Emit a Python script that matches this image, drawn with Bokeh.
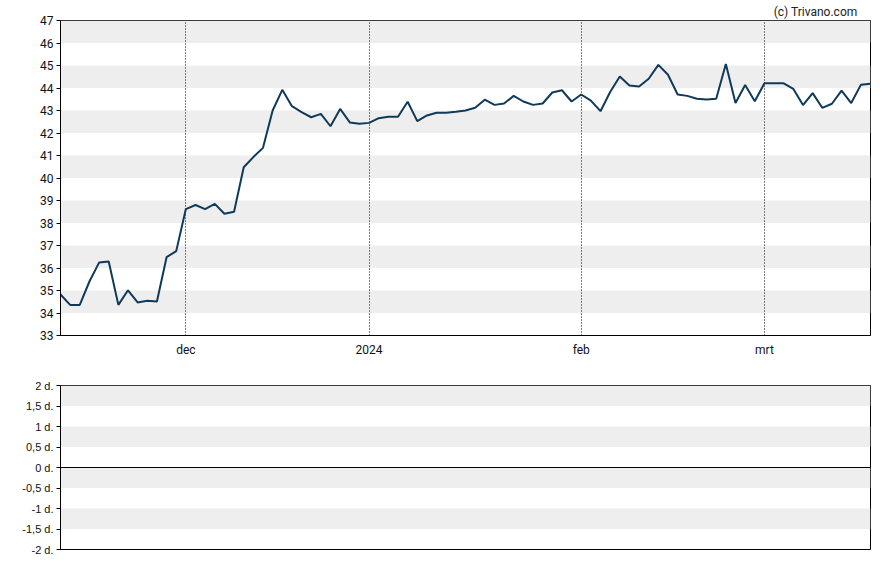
from bokeh.plotting import figure
from bokeh.models import FixedTicker, Span, Range1d, Grid
from bokeh.layouts import column
from bokeh.embed import file_html
from bokeh.resources import INLINE

# Closing prices (trading days, mid-Nov 2023 .. mid-Mar 2024)
prices = [
    34.82, 34.36, 34.36, 35.40, 36.24, 36.29, 34.36, 35.01, 34.47, 34.54,
    34.51, 36.48, 36.75, 38.62, 38.80, 38.62, 38.85, 38.41, 38.50, 40.48,
    40.93, 41.34, 43.00, 43.92, 43.19, 42.93, 42.70, 42.85, 42.30, 43.07,
    42.47, 42.41, 42.45, 42.66, 42.72, 42.72, 43.39, 42.53, 42.78, 42.90,
    42.90, 42.94, 43.00, 43.12, 43.48, 43.25, 43.31, 43.65, 43.40, 43.25,
    43.31, 43.80, 43.90, 43.40, 43.71, 43.44, 42.97, 43.82, 44.51, 44.11,
    44.07, 44.41, 45.03, 44.59, 43.71, 43.65, 43.52, 43.49, 43.52, 45.07,
    43.33, 44.13, 43.41, 44.21, 44.21, 44.21, 43.96, 43.24, 43.77, 43.12,
    43.30, 43.88, 43.33, 44.14, 44.19,
]
day_index = list(range(len(prices)))

month_ticks = [13, 32, 54, 73]
month_labels = ["dec", "2024", "feb", "mrt"]

price_ticks = list(range(33, 48))

lower_ticks = [-2, -1.5, -1, -0.5, 0, 0.5, 1, 1.5, 2]
lower_labels = ["-2 d.", "-1,5 d.", "-1 d.", "-0,5 d.", "0 d.",
                "0,5 d.", "1 d.", "1,5 d.", "2 d."]

BAND = "#eeeeee"
LINE = "#0f3a5a"

p = figure(width=888, height=365, output_backend="svg", toolbar_location=None,
           x_range=Range1d(0, len(prices) - 1), y_range=Range1d(33, 47),
           min_border_left=60, min_border_right=18, min_border_top=20,
           min_border_bottom=30, title="(c) Trivano.com")
p.background_fill_color = "white"
p.border_fill_color = "white"
p.outline_line_color = "black"
p.outline_line_alpha = 1.0

p.title.align = "right"
p.title.text_font = "Roboto"
p.title.text_font_size = "12px"
p.title.text_font_style = "normal"
p.title.text_color = "#222222"
p.title.standoff = 4
p.title.offset = 13

# horizontal bands first, then the dotted month lines on top of them
p.xgrid.visible = False
p.ygrid.ticker = FixedTicker(ticks=price_ticks)
p.ygrid.grid_line_color = None
p.ygrid.band_fill_color = BAND
p.ygrid.band_fill_alpha = 1.0

month_grid = Grid(dimension=0, ticker=FixedTicker(ticks=month_ticks),
                  grid_line_color="black", grid_line_dash="1 2",
                  grid_line_width=1, level="underlay")
p.add_layout(month_grid)

p.line(day_index, prices, line_color=LINE, line_width=2)

p.xaxis.ticker = FixedTicker(ticks=month_ticks)
p.xaxis.major_label_overrides = {t: l for t, l in zip(month_ticks, month_labels)}
p.xaxis.major_tick_out = 0
p.xaxis.major_tick_in = 0
p.xaxis.minor_tick_line_color = None
p.xaxis.major_label_standoff = 7
p.xaxis.axis_line_color = "black"

p.yaxis.ticker = FixedTicker(ticks=price_ticks)
p.yaxis.major_tick_out = 4
p.yaxis.major_tick_in = 0
p.yaxis.minor_tick_line_color = None
p.yaxis.major_label_standoff = 3
p.yaxis.axis_line_color = "black"

for ax in (p.xaxis[0], p.yaxis[0]):
    ax.major_label_text_font = "Roboto"
    ax.major_label_text_font_size = "12px"
    ax.major_label_text_color = "#111111"

q = figure(width=888, height=200, output_backend="svg", toolbar_location=None,
           x_range=p.x_range, y_range=Range1d(-2, 2),
           min_border_left=60, min_border_right=18, min_border_top=20,
           min_border_bottom=16)
q.background_fill_color = "white"
q.border_fill_color = "white"
q.outline_line_color = "black"
q.outline_line_alpha = 1.0
q.xaxis.visible = False
q.xgrid.grid_line_color = None
q.ygrid.ticker = FixedTicker(ticks=lower_ticks)
q.ygrid.grid_line_color = None
q.ygrid.band_fill_color = BAND
q.ygrid.band_fill_alpha = 1.0

q.yaxis.ticker = FixedTicker(ticks=lower_ticks)
q.yaxis.major_label_overrides = {t: l for t, l in zip(lower_ticks, lower_labels)}
q.yaxis.major_tick_out = 4
q.yaxis.major_tick_in = 0
q.yaxis.minor_tick_line_color = None
q.yaxis.major_label_standoff = 3
q.yaxis.axis_line_color = "black"
q.yaxis.major_label_text_font = "Liberation Sans"
q.yaxis.major_label_text_font_size = "11px"
q.yaxis.major_label_text_color = "#111111"

q.add_layout(Span(location=0, dimension="width", line_color="black", line_width=1))
q.line(day_index, [0] * len(day_index), line_alpha=0)

layout = column(p, q, spacing=0)
open("out.html", "w").write(file_html(layout, INLINE))
